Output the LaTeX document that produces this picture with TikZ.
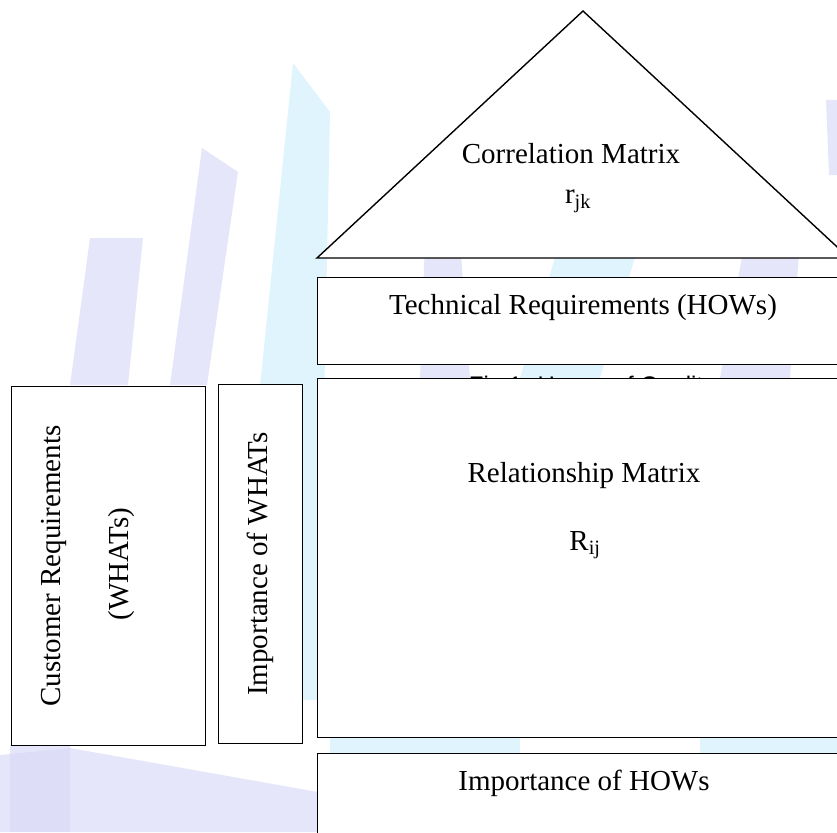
\documentclass[tikz,border=0pt]{standalone}
\usepackage{fontspec}
\setmainfont{Liberation Serif}
\newfontfamily\figfont{Liberation Sans}

\definecolor{lila}{RGB}{214,214,246}
\definecolor{celeste}{RGB}{202,236,250}

\tikzset{
  caja/.style={draw, line width=1.4pt, fill=white, anchor=north west, inner sep=0pt},
  rotulo/.style={anchor=base, inner sep=0pt, font=\fontsize{29}{33}\selectfont},
  rotuloV/.style={rotulo, rotate=90},
  marca/.style={opacity=0.6}
}

\begin{document}
\begin{tikzpicture}[x=1pt,y=-1pt]

    \useasboundingbox (0,0) rectangle (837,832);
    \clip (0,0) rectangle (837,832);

    % Marca de agua (barras)
    \fill[lila,marca] (90,238) -- (143,238) -- (128,385) -- (70,385) -- cycle;
    \fill[lila,marca] (202,148) -- (238,172) -- (207,385) -- (170,385) -- cycle;
    \fill[celeste,marca] (293,63) -- (330,112) -- (318,700) -- (228,700) -- cycle;
    \fill[lila,marca] (0,832) -- (0,755) -- (70,748) -- (318,792) -- (318,832) -- cycle;
    \fill[lila,marca] (10,745) -- (70,745) -- (70,832) -- (10,832) -- cycle;
    \fill[celeste,marca] (560,240) -- (640,240) -- (600,378) -- (520,378) -- cycle;
    \fill[lila,marca] (745,240) -- (800,240) -- (790,378) -- (720,378) -- cycle;
    \fill[lila,marca] (425,240) -- (460,240) -- (470,378) -- (420,378) -- cycle;
    \fill[lila,marca] (826,100) -- (837,100) -- (837,175) -- (829,175) -- cycle;
    \fill[celeste,marca] (330,737) -- (520,737) -- (520,753) -- (330,753) -- cycle;
    \fill[celeste,marca] (700,737) -- (837,737) -- (837,753) -- (700,753) -- cycle;

    % Pie de figura (queda tapado por la matriz)
    \node[anchor=base, inner sep=0pt, font=\figfont\fontsize{24}{28}\selectfont] (pie) at (592,393) {Fig 1: House of Quality};

    % Techo: matriz de correlacion
    \coordinate (apex) at (583,11);
    \coordinate (baseL) at (317,258);
    \coordinate (baseR) at (849,258);
    \filldraw[fill=white, line width=1.4pt, line join=miter] (baseL) -- (apex) -- (baseR) -- cycle;
    \node[rotulo] (corr) at (571,163) {Correlation Matrix};
    \node[rotulo] (rjk) at (578,203) {r\textsubscript{jk}};

    % Bloques de la casa
    \node[caja, minimum width=560pt, minimum height=87pt] (tech) at (317,277) {};
    \node[caja, minimum width=560pt, minimum height=359pt] (rel) at (317,378) {};
    \node[caja, minimum width=560pt, minimum height=120pt] (hows) at (317,753) {};
    \node[caja, minimum width=194pt, minimum height=359pt] (cust) at (11,386) {};
    \node[caja, minimum width=84pt, minimum height=359pt] (whatimp) at (218,384) {};

    % Textos
    \node[rotulo] (techtxt) at (583,314) {Technical Requirements (HOWs)};
    \node[rotulo] (reltxt) at (584,482) {Relationship Matrix};
    \node[rotulo] (rij) at (585,550) {R\textsubscript{ij}};
    \node[rotulo] (howstxt) at (584,790) {Importance of HOWs};
    \node[rotuloV] (custtxt) at (60,566) {Customer Requirements};
    \node[rotuloV] (whats) at (128,564) {(WHATs)};
    \node[rotuloV] (whatimptxt) at (267,564) {Importance of WHATs};

\end{tikzpicture}
\end{document}
